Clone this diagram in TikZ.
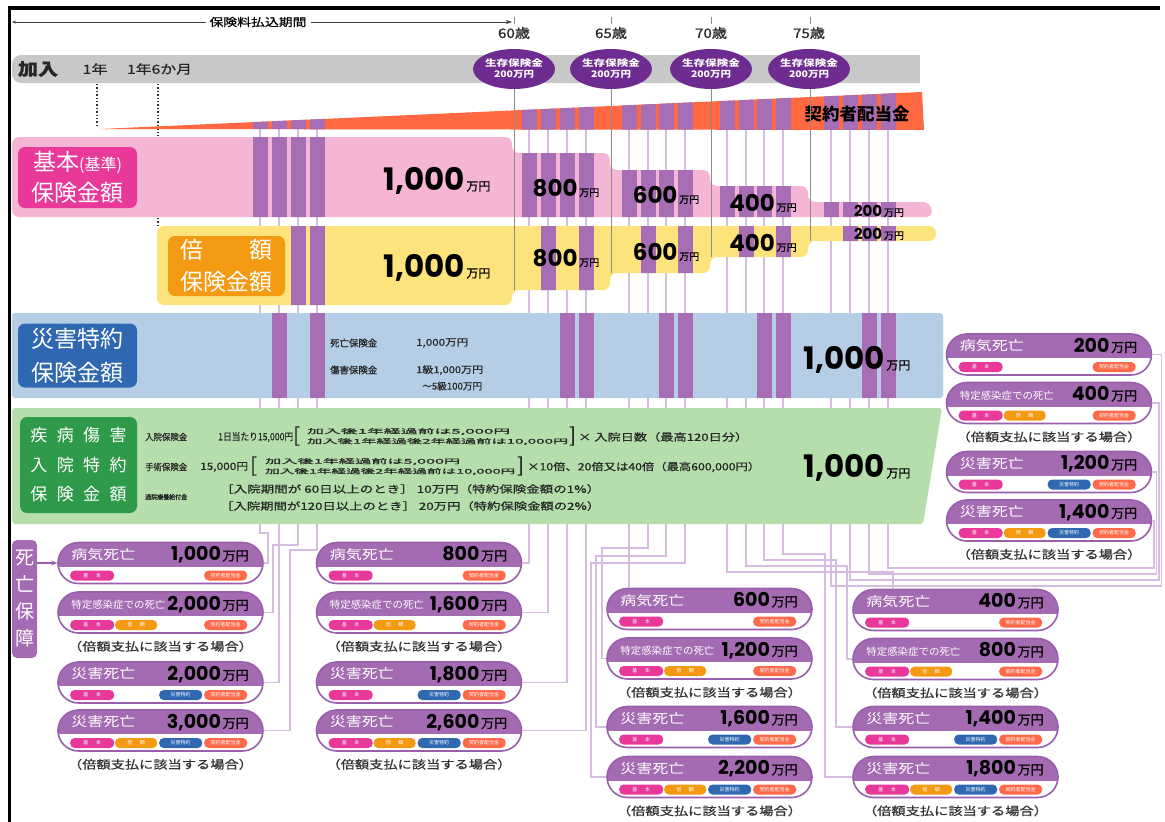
\documentclass[tikz,border=0pt]{standalone}
\usepackage{fontspec}
\usepackage{graphicx}
\setmainfont{Noto Sans CJK JP}
\newfontfamily\jpm{Noto Sans CJK JP}[FakeBold=0.6]
\newfontfamily\numf{Poppins}
\usetikzlibrary{shapes.misc,shapes.geometric,arrows.meta,calc}
\newcommand\fsz[1]{\fontsize{#1}{#1}\selectfont}
\newcommand\fitw[2]{\resizebox{#1}{\height}{#2}}
\newcommand\spc{\hspace{0.55em}}
\definecolor{cGray}{HTML}{C8C8C8}
\definecolor{cPink}{HTML}{F5B5D5}
\definecolor{cMag}{HTML}{E8399A}
\definecolor{cYel}{HTML}{FCE37C}
\definecolor{cOrg}{HTML}{F39A12}
\definecolor{cBlueB}{HTML}{B6CEE5}
\definecolor{cBlue}{HTML}{2F68B0}
\definecolor{cGreenB}{HTML}{B6DEAC}
\definecolor{cGreen}{HTML}{2F9A4A}
\definecolor{cBar}{HTML}{A86EB5}
\definecolor{cLine}{HTML}{D6BCE0}
\definecolor{cEll}{HTML}{6E2C91}
\definecolor{cRed}{HTML}{FF6840}
\definecolor{cBox}{HTML}{A46BB3}
\definecolor{cBoxL}{HTML}{9A5FAC}
\definecolor{cTagR}{HTML}{FF6A4A}
\definecolor{cGLine}{HTML}{8C8C8C}
\tikzset{
 conn/.style={draw=cLine, line width=1.1pt},
 pill/.style={rounded rectangle, minimum width=205pt, minimum height=41pt, inner sep=0pt,
   draw=cBoxL, line width=1.6pt, fill=white,
   path picture={\fill[cBox] ([yshift=2pt]path picture bounding box.north west) rectangle ([yshift=-24pt]path picture bounding box.north east);}},
 boxttl/.style={anchor=base west, inner sep=0pt, text=white},
 boxamt/.style={anchor=base east, inner sep=0pt, text=black},
 tagbox/.style={rounded corners=4.5pt, minimum height=10pt, inner sep=0pt, text=white, font=\fsz{5}},
 capt/.style={inner sep=0pt, text=black!80},
 lbl/.style={rounded corners=7pt, text=white, align=center, inner sep=0pt},
 bandtxt/.style={anchor=west, inner sep=0pt, text=black!85, font=\jpm},
 agelbl/.style={inner sep=0pt, text=black!85, font=\jpm},
 surv/.style={ellipse, minimum width=73pt, minimum height=40pt, fill=cEll, text=white, inner sep=0pt, align=center, font=\fontsize{9}{11}\selectfont\bfseries},
 num/.style={inner sep=0pt, text=black},
}
\newcommand\tByoki{\fitw{64pt}{\fsz{13}病気死亡}}
\newcommand\tToku{\fitw{94pt}{\fsz{10}特定感染症での死亡}}
\newcommand\tSai{\fitw{64pt}{\fsz{13}災害死亡}}
\newcommand\bnum[3]{{\numf\bfseries\fsz{#1}#2}\,{\jpm\fsz{#3}万円}}
\newcommand\dbox[8]{%
 \node[pill] (#1) at (#2,#3) {};
 \node[boxttl] (#1-t) at ([xshift=14pt,yshift=3.8pt]#1.west) {#4};
 \node[boxamt] (#1-a) at ([xshift=-15pt,yshift=2.5pt]#1.east) {{\numf\bfseries\fsz{19}#5}\,{\jpm\fsz{13}万円}};
 \node[tagbox, fill=cMag, minimum width=44pt] (#1-k1) at ([xshift=35pt,yshift=-12.5pt]#1.west) {基\hspace{1.5em}本};
 \ifnum#6=1 \node[tagbox, fill=cOrg, minimum width=42pt] (#1-k2) at ([xshift=79pt,yshift=-12.5pt]#1.west) {倍\hspace{1.5em}額};\fi
 \ifnum#7=1 \node[tagbox, fill=cBlue, minimum width=43pt] (#1-k3) at ([xshift=123.5pt,yshift=-12.5pt]#1.west) {災害特約};\fi
 \node[tagbox, fill=cTagR, minimum width=43pt] (#1-k4) at ([xshift=168.5pt,yshift=-12.5pt]#1.west) {契約者配当金};
 \ifnum#8=1 \node[capt] (#1-c) at ([yshift=-12.5pt]#1.south) {\fitw{185pt}{\jpm\fsz{11.5}（倍額支払に該当する場合）}};\fi
}
\begin{document}
\begin{tikzpicture}[x=1pt,y=-1pt]
\useasboundingbox (0,0) rectangle (1165,822);
\fill[white] (0,0) rectangle (1165,822);

% ---------- death boxes ----------
\dbox{A1}{160.5}{563}{\tByoki}{1,000}{0}{0}{0}
\dbox{A2}{160.5}{612.5}{\tToku}{2,000}{1}{0}{1}
\dbox{A3}{160.5}{682.5}{\tSai}{2,000}{0}{1}{0}
\dbox{A4}{160.5}{730.5}{\tSai}{3,000}{1}{1}{1}
\dbox{B1}{419}{563}{\tByoki}{800}{0}{0}{0}
\dbox{B2}{419}{612.5}{\tToku}{1,600}{1}{0}{1}
\dbox{B3}{419}{682.5}{\tSai}{1,800}{0}{1}{0}
\dbox{B4}{419}{730.5}{\tSai}{2,600}{1}{1}{1}
\dbox{C1}{709.5}{609}{\tByoki}{600}{0}{0}{0}
\dbox{C2}{709.5}{658.5}{\tToku}{1,200}{1}{0}{1}
\dbox{C3}{709.5}{727}{\tSai}{1,600}{0}{1}{0}
\dbox{C4}{709.5}{777}{\tSai}{2,200}{1}{1}{1}
\dbox{D1}{955.5}{610}{\tByoki}{400}{0}{0}{0}
\dbox{D2}{955.5}{659}{\tToku}{800}{1}{0}{1}
\dbox{D3}{955.5}{727}{\tSai}{1,400}{0}{1}{0}
\dbox{D4}{955.5}{777}{\tSai}{1,800}{1}{1}{1}
\dbox{E1}{1049}{354.5}{\tByoki}{200}{0}{0}{0}
\dbox{E2}{1049}{403}{\tToku}{400}{1}{0}{1}
\dbox{E3}{1049}{472}{\tSai}{1,200}{0}{1}{0}
\dbox{E4}{1049}{520.5}{\tSai}{1,400}{1}{1}{1}

% ---------- column lines / connectors ----------
\foreach \n/\x in {01/260,02/279,03/298,04/317,11/529,12/548,13/567,14/586,21/629,22/648,23/666,24/685,31/727,32/746,33/764,34/783,41/831,42/850,43/869,44/888}
  \coordinate (c\n) at (\x,129);
\coordinate (d1in) at ($(D1.north)+(-62.5,0)$);
\draw[conn] (c01) |- (268,533) |- (A1.east);
\draw[conn] (c03) |- (273,545) |- (A2.east);
\draw[conn] (c02) |- (A3.east);
\draw[conn] (c04) |- (290,550) |- (A4.east);
\draw[conn] (c11) |- (B1.east);
\draw[conn] (c12) |- (B2.east);
\draw[conn] (c13) |- (B3.east);
\draw[conn] (c14) |- (B4.east);
\draw[conn] (c21) -- (c21 |- C1.north);
\draw[conn] (c22) |- (602,548) |- (C2.west);
\draw[conn] (c23) |- (596,556) |- (C3.west);
\draw[conn] (c24) |- (591,563) |- (C4.west);
\draw[conn] (c31) |- (893,572) -- (d1in);
\draw[conn] (c32) |- (847,566) |- (D2.west);
\draw[conn] (c33) |- (836,560) |- (D3.west);
\draw[conn] (c34) |- (825,554) |- (D4.west);
\draw[conn] (c41) |- (1161.5,586) |- (E1.east);
\draw[conn] (c42) |- (1159,580) |- (E2.east);
\draw[conn] (c43) |- (1156.5,574) |- (E3.east);
\draw[conn] (c44) |- (1154,568) |- (E4.east);

% ---------- top timeline ----------
\draw[{Stealth[length=4pt,width=3pt]}-{Stealth[length=6pt,width=4pt]}, black!75, line width=0.7pt] (12,22) -- (512,22);
\node[fill=white, inner xsep=4pt, inner ysep=0pt, font=\jpm] (tpay) at (258,22) {\fitw{97pt}{\fsz{11}保険料払込期間}};
\fill[cGray, rounded corners=9pt] (12,55) rectangle (935,83);
\fill[cGray] (900,55) rectangle (920,83);
\fill[white] (920,54) rectangle (940,84);
\node[agelbl] (kanyu) at (38,69) {\fitw{40pt}{\fsz{17}\bfseries 加入}};
\node[agelbl] (y1) at (95,69) {\fitw{25pt}{\fsz{12.5}1年}};
\node[agelbl] (y15) at (159.5,69) {\fitw{65pt}{\fsz{12.5}1年6か月}};
\draw[black!80, dotted, line width=1.4pt] (97,84) -- (97,126);
\draw[black!80, dotted, line width=1.4pt] (158,84) -- (158,136);
\draw[black!80, dotted, line width=1.4pt] (158,218) -- (158,226);

% ---------- dividend wedge ----------
\fill[cRed] (100,129) -- (922,92) -- (924,130) -- cycle;
\begin{scope}
\clip (100,129) -- (922,92) -- (924,130) -- cycle;
\foreach \x in {260,279,298,317,529,548,567,586,629,648,666,685,727,746,764,783,831,850,869,888}
  \fill[cBar] (\x-7.5,85) rectangle (\x+7.5,131);
\end{scope}
\node[inner sep=0pt] (haito) at (857,114) {\fitw{105pt}{\fsz{17}\bfseries 契約者配当金}};

% ---------- pink band ----------
\def\pinkpath{(12,137) -- (512,137) -- (512,153) -- (610,153) -- (610,170) -- (710,170) -- (710,186) -- (808,186) -- (808,202) -- (930,202) -- (933,217) -- (12,217) -- cycle}
\fill[cPink, rounded corners=7pt] \pinkpath;
\begin{scope}
\clip[rounded corners=7pt] \pinkpath;
\foreach \x in {260,279,298,317,529,548,567,586,629,648,666,685,727,746,764,783,831,850,869,888}
  \fill[cBar] (\x-7.5,130) rectangle (\x+7.5,218);
\end{scope}
\node[lbl, fill=cMag, minimum width=119pt, minimum height=61pt, font=\fontsize{23}{31}\selectfont] (lbP) at (77.5,177.5) {基本{\fsz{16}(基準)}\\保険金額};

% ---------- yellow band ----------
\def\yelpath{(157,226) -- (936,226) -- (936,241) -- (808,241) -- (808,257) -- (710,257) -- (710,273) -- (610,273) -- (610,290) -- (512,290) -- (512,305) -- (157,305) -- cycle}
\fill[cYel, rounded corners=7pt] \yelpath;
\begin{scope}
\clip[rounded corners=7pt] \yelpath;
\foreach \x in {298,317,548,586,648,685,746,783,850,869,888}
  \fill[cBar] (\x-7.5,225) rectangle (\x+7.5,306);
\end{scope}
\node[lbl, fill=cOrg, minimum width=117pt, minimum height=60pt, font=\fontsize{23}{32}\selectfont] (lbY) at (226.5,266) {倍\hspace{2em}額\\保険金額};

% gray age lines
\foreach \x/\yb in {514/290,611/273,711/257,810/241} {
  \draw[cGLine, line width=1pt] (\x,89) -- (\x,\yb);
  \draw[cGLine, line width=0.8pt] (\x,17) -- (\x,24);
}

% ---------- blue band ----------
\fill[cBlueB, rounded corners=3pt] (12,313) rectangle (943,398);
\foreach \x in {279,317,567,586,666,685,764,783,869,888}
  \fill[cBar] (\x-7.5,313) rectangle (\x+7.5,398);
\node[lbl, fill=cBlue, minimum width=119pt, minimum height=64pt, font=\fontsize{23}{34}\selectfont] (lbB) at (77.5,355.5) {災害特約\\保険金額};
\node[bandtxt] (bt1) at (330,343) {\fitw{47pt}{\fsz{9.5}死亡保険金}};
\node[bandtxt] (bt2) at (416,343) {\fitw{52pt}{\fsz{9.5}1,000万円}};
\node[bandtxt] (bt3) at (330,370) {\fitw{47pt}{\fsz{9.5}傷害保険金}};
\node[bandtxt] (bt4) at (416,370) {\fitw{67pt}{\fsz{9.5}1級1,000万円}};
\node[bandtxt] (bt5) at (422,386) {\fitw{60pt}{\fsz{9.5}～5級100万円}};

% ---------- green band ----------
\fill[cGreenB, rounded corners=3pt] (12,408) -- (942,408) -- (923,524) -- (12,524) -- cycle;
\node[lbl, fill=cGreen, minimum width=117pt, minimum height=96pt, font=\fontsize{17}{29.5}\selectfont] (lbG) at (78.5,465) {疾\spc 病\spc 傷\spc 害\\入\spc 院\spc 特\spc 約\\保\spc 険\spc 金\spc 額};
\node[bandtxt] (g1a) at (145,437) {\fitw{42pt}{\fsz{9}入院保険金}};
\node[bandtxt] (g1b) at (218,437) {\fitw{75pt}{\fsz{10}1日当たり15,000円}};
\node[bandtxt] (g1c) at (293,436) {\fsz{20}[};
\node[bandtxt] (g1d) at (307,431.5) {\fitw{203pt}{\fsz{6.5}加入後1年経過前は5,000円}};
\node[bandtxt] (g1e) at (307,441.5) {\fitw{261pt}{\fsz{6.5}加入後1年経過後2年経過前は10,000円}};
\node[bandtxt] (g1f) at (569,436) {\fsz{20}]};
\node[bandtxt] (g1g) at (578,437) {\fitw{170pt}{\fsz{10}× 入院日数（最高120日分）}};
\node[bandtxt] (g2a) at (145,467) {\fitw{42pt}{\fsz{9}手術保険金}};
\node[bandtxt] (g2b) at (200,467) {\fitw{48pt}{\fsz{10}15,000円}};
\node[bandtxt] (g2c) at (250,466) {\fsz{20}[};
\node[bandtxt] (g2d) at (265,461.5) {\fitw{195pt}{\fsz{6.5}加入後1年経過前は5,000円}};
\node[bandtxt] (g2e) at (265,471.5) {\fitw{250pt}{\fsz{6.5}加入後1年経過後2年経過前は10,000円}};
\node[bandtxt] (g2f) at (517,466) {\fsz{20}]};
\node[bandtxt] (g2g) at (527,467) {\fitw{233pt}{\fsz{10}×10倍、20倍又は40倍（最高600,000円）}};
\node[bandtxt] (g3a) at (145,497) {\fitw{42pt}{\fsz{6.5}通院療養給付金}};
\node[bandtxt] (g3b) at (220,489) {\fitw{380pt}{\fsz{10}［入院期間が 60日以上のとき］ 10万円（特約保険金額の1\%）}};
\node[bandtxt] (g3c) at (220,506) {\fitw{380pt}{\fsz{10}［入院期間が120日以上のとき］ 20万円（特約保険金額の2\%）}};

% ---------- amounts in bands ----------
\node[num] (n1) at (437,181) {\bnum{31}{1,000}{12}};
\node[num] (n2) at (437,268) {\bnum{31}{1,000}{12}};
\node[num] (n3) at (566,188) {\bnum{23}{800}{10}};
\node[num] (n4) at (566,258) {\bnum{23}{800}{10}};
\node[num] (n5) at (666,195) {\bnum{23}{600}{10}};
\node[num] (n6) at (666,252) {\bnum{23}{600}{10}};
\node[num] (n7) at (763,203) {\bnum{23}{400}{10}};
\node[num] (n8) at (763,243) {\bnum{23}{400}{10}};
\node[num] (n9) at (879,211) {\bnum{15}{200}{10}};
\node[num] (n10) at (879,234) {\bnum{15}{200}{10}};
\node[num] (n11) at (857,360) {\bnum{31}{1,000}{12}};
\node[num] (n12) at (857,468) {\bnum{31}{1,000}{12}};

% ---------- ages and survival benefits ----------
\foreach \x/\a/\nm in {514/60/s60,611/65/s65,711/70/s70,809/75/s75} {
  \node[agelbl] (age\nm) at (\x,33) {\fitw{32pt}{\fsz{13}\a 歳}};
  \node[surv] (\nm) at (\x,69) {\fitw{58pt}{生存保険金}\\\fitw{40pt}{200万円}};
}

% ---------- death protection ----------
\node[fill=cBox, rounded corners=5pt, minimum width=25pt, minimum height=118pt, inner sep=0pt, text=white, align=center, font=\fontsize{19}{27}\selectfont] (dp) at (24.5,599) {死\\亡\\保\\障};
\draw[-{Stealth[length=6pt,width=5pt]}, cBoxL, line width=1.2pt] (dp.east |- A1.west) -- (A1.west);

% ---------- frame ----------
\draw[black, line width=3.5pt] (8,8) -- (1160,8);
\draw[black, line width=3.5pt] (9.5,8) -- (9.5,822);
\end{tikzpicture}
\end{document}
